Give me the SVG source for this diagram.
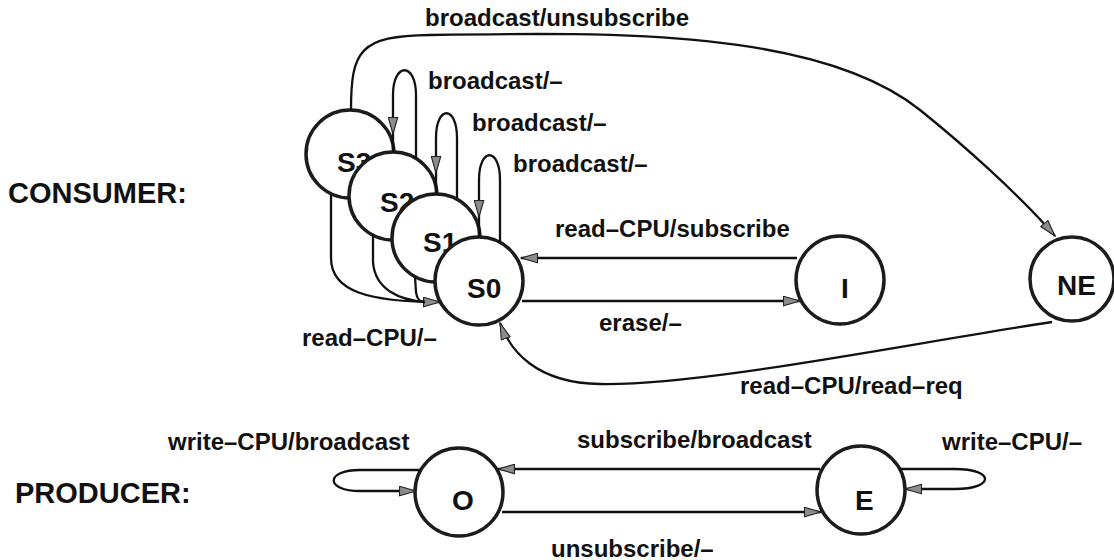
<svg xmlns="http://www.w3.org/2000/svg" width="1114" height="560" viewBox="0 0 1114 560">
  <style>
    .st { fill: #fff; stroke: #1c1c1c; stroke-width: 3.5; }
    .sl { font-family: "Liberation Sans", Arial, sans-serif; font-weight: bold; font-size: 28px; fill: #111; }
    .lb { font-family: "Liberation Sans", Arial, sans-serif; font-weight: bold; font-size: 24px; fill: #111; }
    .hd { font-family: "Liberation Sans", Arial, sans-serif; font-weight: bold; font-size: 29px; fill: #111; }
    .ed { fill: none; stroke: #111; stroke-width: 2.3; }
    .ah { marker-end: url(#arrow); }
  </style>
  <defs>
    <!-- grey filled open-tip arrowhead used on every transition -->
    <marker id="arrow" viewBox="0 0 18 11" refX="17" refY="5.5" markerWidth="18" markerHeight="11" markerUnits="userSpaceOnUse" orient="auto">
      <path d="M0.5,0.8 L17,5.5 L0.5,10.2 Z" fill="#8c8c8c" stroke="#222" stroke-width="1.1"/>
    </marker>
  </defs>
  <rect width="1114" height="560" fill="#fff"/>

  <!-- section headings -->
  <text class="hd" x="8" y="203">CONSUMER:</text>
  <text class="hd" x="15" y="503">PRODUCER:</text>

  <!-- consumer states, back to front -->
  <g id="S3">
    <circle class="st" cx="350" cy="154" r="44"/>
    <text class="sl" x="337" y="172">S3</text>
  </g>
  <g id="S2">
    <circle class="st" cx="393" cy="196" r="44"/>
    <text class="sl" x="380" y="212">S2</text>
  </g>
  <g id="S1">
    <circle class="st" cx="436" cy="238" r="44"/>
    <text class="sl" x="423" y="252">S1</text>
  </g>
  <g id="S0">
    <circle class="st" cx="479" cy="281" r="44"/>
    <text class="sl" x="467" y="298">S0</text>
  </g>
  <g id="I">
    <circle class="st" cx="840" cy="280" r="44"/>
    <text class="sl" x="845" y="298" text-anchor="middle">I</text>
  </g>
  <g id="NE">
    <circle class="st" cx="1072" cy="279" r="42"/>
    <text class="sl" x="1057" y="295">NE</text>
  </g>

  <!-- producer states -->
  <g id="O">
    <circle class="st" cx="459" cy="492" r="44"/>
    <text class="sl" x="452" y="510">O</text>
  </g>
  <g id="E">
    <circle class="st" cx="861" cy="490" r="44"/>
    <text class="sl" x="855" y="510">E</text>
  </g>

  <g id="connectors">
    <!-- S3 -> NE -->
    <path class="ed ah" d="M351,110 C351,50 360,36 430,35 C620,32 820,30 920,110 C960,142 1020,195 1055,236"/>
    <!-- broadcast self-loops -->
    <path class="ed ah" d="M416,158 L416,95 C416,62 393,62 393,95 L393,134"/>
    <path class="ed" d="M393,134 L393,152"/>
    <path class="ed ah" d="M457,199 L457,138 C457,105 436,105 436,138 L436,173"/>
    <path class="ed" d="M436,173 L436,194"/>
    <path class="ed ah" d="M500,242 L500,180 C500,147 479,147 479,180 L479,217"/>
    <path class="ed" d="M479,217 L479,237"/>
    <!-- read-CPU/- into S0 -->
    <path class="ed ah" d="M331,194 L331,258 C331,292 370,302 440,302"/>
    <path class="ed" d="M373,235 L373,262 C375,290 400,300 425,302"/>
    <path class="ed" d="M415,277 L416,292 C417,300 420,302 425,302"/>
    <!-- I <-> S0 -->
    <path class="ed ah" d="M797,258 L521,258"/>
    <path class="ed ah" d="M522,301 L800,301"/>
    <!-- NE -> S0 -->
    <path class="ed ah" d="M1052,322 C900,345 700,386 600,384 C535,383 510,350 500,323"/>
    <!-- producer -->
    <path class="ed ah" d="M421,470 L360,470 C325,470 325,491 360,491 L416,491"/>
    <path class="ed ah" d="M900,469 L955,469 C995,469 995,489 955,489 L905,489"/>
    <path class="ed ah" d="M820,469 L498,469"/>
    <path class="ed ah" d="M502,512 L821,512"/>
  </g>

  <!-- transition labels -->
  <text class="lb" x="425" y="26">broadcast/unsubscribe</text>
  <text class="lb" x="428" y="89">broadcast/–</text>
  <text class="lb" x="472" y="131">broadcast/–</text>
  <text class="lb" x="513" y="172">broadcast/–</text>
  <text class="lb" x="555" y="237">read–CPU/subscribe</text>
  <text class="lb" x="599" y="331">erase/–</text>
  <text class="lb" x="302" y="346">read–CPU/–</text>
  <text class="lb" x="740" y="394">read–CPU/read–req</text>
  <text class="lb" x="168" y="450">write–CPU/broadcast</text>
  <text class="lb" x="577" y="448">subscribe/broadcast</text>
  <text class="lb" x="942" y="450">write–CPU/–</text>
  <text class="lb" x="551" y="557">unsubscribe/–</text>
</svg>
